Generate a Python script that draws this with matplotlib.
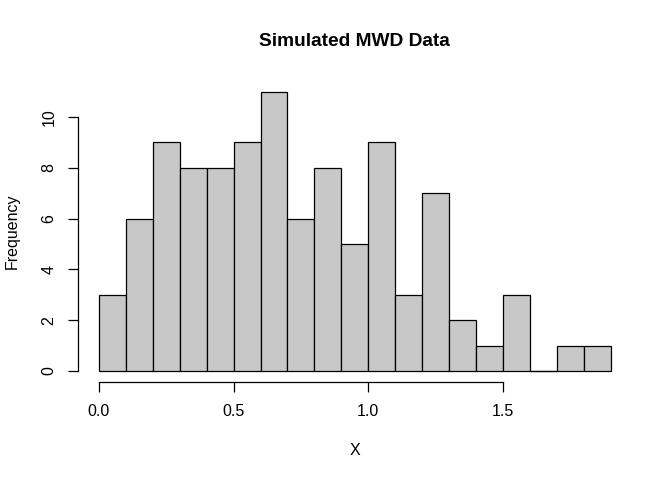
import matplotlib
matplotlib.use("Agg")
import matplotlib.pyplot as plt
import numpy as np

plt.rcParams['font.family'] = ['Liberation Sans', 'DejaVu Sans']

# histogram of simulated MWD data, bins of width 0.1
bin_edges = [0.0, 0.1, 0.2, 0.3, 0.4, 0.5, 0.6, 0.7, 0.8, 0.9, 1.0,
             1.1, 1.2, 1.3, 1.4, 1.5, 1.6, 1.7, 1.8, 1.9]
counts = [3, 6, 9, 8, 8, 9, 11, 6, 8, 5, 9, 3, 7, 2, 1, 3, 0, 1, 1]
x_ticks = [0.0, 0.5, 1.0, 1.5]
x_ticklabels = ["0.0", "0.5", "1.0", "1.5"]
y_ticks = [0, 2, 4, 6, 8, 10]

fig = plt.figure(figsize=(6.72, 4.8), dpi=100)
ax_box = [0.1168, 0.2038, 0.8222, 0.6287]
ax = fig.add_axes(ax_box)

lefts = np.array(bin_edges[:-1])
widths = np.diff(bin_edges)
cnt = np.array(counts)
ax.bar(lefts, cnt, width=widths, align="edge", color="#C8C8C8",
       edgecolor="black", linewidth=0.9)
# empty bins show as a flat line in R's hist
empty = cnt == 0
ax.hlines(cnt[empty], lefts[empty], lefts[empty] + widths[empty],
          color="black", linewidth=0.9)

ax.set_xlim(-0.076, 1.976)
ax.set_ylim(-0.44, 11.44)

for s in ["top", "right"]:
    ax.spines[s].set_visible(False)
ax.spines["left"].set_bounds(0, 10)
ax.spines["bottom"].set_bounds(0, 1.5)
ax.spines["left"].set_linewidth(0.9)
ax.spines["bottom"].set_linewidth(0.9)

ax.set_xticks(x_ticks)
ax.set_xticklabels(x_ticklabels)
ax.set_yticks(y_ticks)
ax.set_yticklabels([str(v) for v in y_ticks], rotation=90, va="center")
ax.tick_params(axis="both", direction="out", length=7.2, width=0.9,
               labelsize=11.5, pad=8.5)

ax.set_xlabel("X", fontsize=11.5)
ax.xaxis.set_label_coords(0.5, -0.228)
ax.xaxis.label.set_va("center")
ax.set_ylabel("Frequency", fontsize=11.5)
ax.yaxis.set_label_coords(-0.120, 0.5)
ax.yaxis.label.set_va("center")

# R centres the main title over the plot region
fig.text(ax_box[0] + ax_box[2] / 2, 0.9125, "Simulated MWD Data",
         fontsize=13.8, fontweight="bold", ha="center", va="center")

fig.savefig("out.png", dpi=100)
